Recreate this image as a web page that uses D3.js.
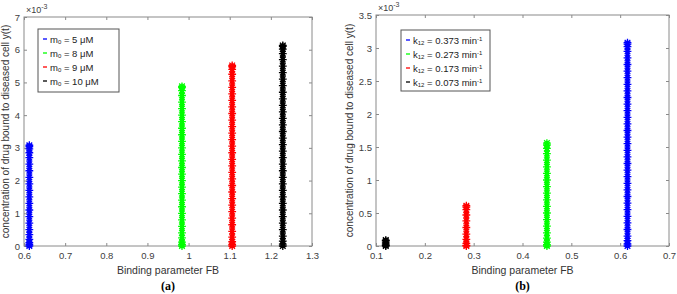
<!DOCTYPE html>
<html>
<head>
<meta charset="utf-8">
<script src="https://cdn.jsdelivr.net/npm/d3@7"></script>
<style>
  body { margin: 0; background: #fff; }
  svg text { font-family: "Liberation Sans", Arial, sans-serif; }
</style>
</head>
<body>
<div id="chart"></div>
<script>
// ---- data (y values in units of 1e-3) ----
// panel (a): varying m0
var fbA = [0.613, 0.984, 1.106, 1.229]
var legendA = ["5", "8", "9", "10"]
var yA_blue  = [0,0.04,0.1,0.2,0.35,0.5,0.7,0.9,1.1,1.3,1.5,1.7,1.9,2.1,2.3,2.5,2.7,2.85,2.97,3.04,3.08]
var yA_green = [0,0.05,0.12,0.25,0.4,0.6,0.8,1.0,1.2,1.4,1.6,1.8,2.0,2.2,2.4,2.6,2.8,3.0,3.2,3.4,3.6,3.8,4.0,4.2,4.4,4.6,4.75,4.84,4.88]
var yA_red   = [0,0.05,0.13,0.27,0.45,0.65,0.85,1.05,1.25,1.45,1.65,1.85,2.05,2.25,2.45,2.65,2.85,3.05,3.25,3.45,3.65,3.85,4.05,4.25,4.45,4.65,4.85,5.05,5.25,5.4,5.48,5.52]
var yA_black = [0,0.06,0.15,0.3,0.5,0.7,0.9,1.1,1.3,1.5,1.7,1.9,2.1,2.3,2.5,2.7,2.9,3.1,3.3,3.5,3.7,3.9,4.1,4.3,4.5,4.7,4.9,5.1,5.3,5.5,5.7,5.88,6.02,6.1,6.13]

// panel (b): varying k12
var fbB = [0.615, 0.45, 0.285, 0.12]
var legendB = ["0.373", "0.273", "0.173", "0.073"]
var yB_blue  = [0,0.03,0.08,0.15,0.25,0.35,0.45,0.55,0.65,0.75,0.85,0.95,1.05,1.15,1.25,1.35,1.45,1.55,1.65,1.75,1.85,1.95,2.05,2.15,2.25,2.35,2.45,2.55,2.65,2.75,2.85,2.95,3.02,3.06,3.08]
var yB_green = [0,0.02,0.06,0.12,0.2,0.3,0.4,0.5,0.6,0.7,0.8,0.9,1.0,1.1,1.2,1.3,1.4,1.48,1.53,1.56]
var yB_red   = [0,0.01,0.04,0.1,0.18,0.28,0.38,0.47,0.55,0.59,0.61]
var yB_black = [0,0.01,0.03,0.06,0.08,0.09]

var colors = ["#0000ff", "#00ff00", "#ff0000", "#000000"]
var xTicksA = [0.6,0.7,0.8,0.9,1,1.1,1.2,1.3]
var yTicksA = [0,1,2,3,4,5,6,7]
var xTicksB = [0.1,0.2,0.3,0.4,0.5,0.6,0.7]
var yTicksB = [0,0.5,1,1.5,2,2.5,3,3.5]

var svg = d3.select("#chart").append("svg")
  .attr("width", 677).attr("height", 294)

// MATLAB style '*' marker
function asterisk(r){
  var d = r * 0.72
  return "M" + (-r) + ",0L" + r + ",0M0," + (-r) + "L0," + r +
         "M" + (-d) + "," + (-d) + "L" + d + "," + d +
         "M" + (-d) + "," + d + "L" + d + "," + (-d)
}

function drawPanel(cfg){
  var x = d3.scaleLinear().domain(cfg.xDomain).range([cfg.left, cfg.right])
  var y = d3.scaleLinear().domain(cfg.yDomain).range([cfg.bottom, cfg.top])
  var g = svg.append("g")

  // axes, ticks inside like matlab
  var fmt = d3.format("~g")
  g.append("g").attr("transform", `translate(0,${cfg.bottom})`)
    .call(d3.axisBottom(x).tickValues(cfg.xTicks).tickSize(-3).tickPadding(6).tickFormat(fmt))
  g.append("g").attr("transform", `translate(0,${cfg.top})`)
    .call(d3.axisTop(x).tickValues(cfg.xTicks).tickSize(-3).tickFormat(""))
  g.append("g").attr("transform", `translate(${cfg.left},0)`)
    .call(d3.axisLeft(y).tickValues(cfg.yTicks).tickSize(-3).tickPadding(4).tickFormat(fmt))
  g.append("g").attr("transform", `translate(${cfg.right},0)`)
    .call(d3.axisRight(y).tickValues(cfg.yTicks).tickSize(-3).tickFormat(""))
  g.selectAll(".domain").remove()
  g.selectAll(".tick line").attr("stroke", "#8a8a8a")
  g.selectAll(".tick text").attr("fill", "#404040").attr("font-size", 9.5)

  g.append("rect")
    .attr("x", cfg.left).attr("y", cfg.top)
    .attr("width", cfg.right - cfg.left).attr("height", cfg.bottom - cfg.top)
    .attr("fill", "none").attr("stroke", "#8a8a8a").attr("stroke-width", 1)

  // exponent label
  var ex = g.append("text").attr("x", cfg.left + 2).attr("y", cfg.top - 4)
    .attr("font-size", 9).attr("fill", "#404040")
  ex.append("tspan").text("\u00d710")
  ex.append("tspan").attr("dy", -4).attr("font-size", 7).text("-3")

  // series
  cfg.series.forEach(function(s, i){
    g.append("line")
      .attr("x1", x(s.fb)).attr("x2", x(s.fb))
      .attr("y1", y(d3.min(s.ys))).attr("y2", y(d3.max(s.ys)))
      .attr("stroke", colors[s.c]).attr("stroke-width", 4)
    g.append("g").selectAll("path")
      .data(s.ys)
      .join("path")
        .attr("transform", d => `translate(${x(s.fb)},${y(d)})`)
        .attr("d", asterisk(3.9))
        .attr("fill", "none")
        .attr("stroke", colors[s.c])
        .attr("stroke-width", 1.3)
  })

  // labels
  g.append("text")
    .attr("x", (cfg.left + cfg.right) / 2).attr("y", 274)
    .attr("text-anchor", "middle").attr("font-size", 10.5).attr("fill", "#333")
    .text("Binding parameter FB")
  g.append("text")
    .attr("transform", `translate(${cfg.yLabX},${(cfg.top + cfg.bottom) / 2}) rotate(-90)`)
    .attr("text-anchor", "middle").attr("font-size", 10).attr("fill", "#333")
    .text("concentration of drug bound to diseased cell y(t)")
  g.append("text")
    .attr("x", (cfg.left + cfg.right) / 2).attr("y", 290)
    .attr("text-anchor", "middle").attr("font-size", 12).attr("font-weight", "bold")
    .style("font-family", "'Liberation Serif', 'Times New Roman', serif")
    .text(cfg.caption)

  // legend
  var lg = g.append("g").attr("transform", `translate(${cfg.legX},${cfg.legY})`)
  lg.append("rect").attr("width", cfg.legW).attr("height", cfg.legH)
    .attr("fill", "#fff").attr("stroke", "#555").attr("stroke-width", 1)
  cfg.series.forEach(function(s, i){
    var yy = 10 + i * 14
    lg.append("line").attr("x1", 5).attr("x2", 9).attr("y1", yy).attr("y2", yy)
      .attr("stroke", colors[s.c]).attr("stroke-width", 1.3)
    var t = lg.append("text").attr("x", 12).attr("y", yy + 3.5)
      .attr("font-size", 9.5).attr("fill", "#222")
    cfg.legendText(t, cfg.legend[i])
  })
}

drawPanel({
  left: 24, right: 312, top: 17, bottom: 246, yLabX: 9,
  xDomain: [0.6, 1.3], yDomain: [0, 7], xTicks: xTicksA, yTicks: yTicksA,
  caption: "(a)", legend: legendA,
  legX: 38, legY: 29, legW: 81, legH: 63,
  series: [
    {fb: fbA[0], ys: yA_blue, c: 0},
    {fb: fbA[1], ys: yA_green, c: 1},
    {fb: fbA[2], ys: yA_red, c: 2},
    {fb: fbA[3], ys: yA_black, c: 3}
  ],
  legendText: function(t, v){
    t.append("tspan").text("m")
    t.append("tspan").attr("font-size", 6).attr("dy", 1.5).text("0")
    t.append("tspan").attr("dy", -1.5).text(" = " + v + " \u03bcM")
  }
})

drawPanel({
  left: 376, right: 669, top: 15, bottom: 246, yLabX: 353,
  xDomain: [0.1, 0.7], yDomain: [0, 3.5], xTicks: xTicksB, yTicks: yTicksB,
  caption: "(b)", legend: legendB,
  legX: 401, legY: 30, legW: 89, legH: 61,
  series: [
    {fb: fbB[0], ys: yB_blue, c: 0},
    {fb: fbB[1], ys: yB_green, c: 1},
    {fb: fbB[2], ys: yB_red, c: 2},
    {fb: fbB[3], ys: yB_black, c: 3}
  ],
  legendText: function(t, v){
    t.append("tspan").text("k")
    t.append("tspan").attr("font-size", 6).attr("dy", 1.5).text("12")
    t.append("tspan").attr("dy", -1.5).text(" = " + v + " min")
    t.append("tspan").attr("font-size", 6).attr("dy", -3).text("-1")
  }
})
</script>
</body>
</html>
